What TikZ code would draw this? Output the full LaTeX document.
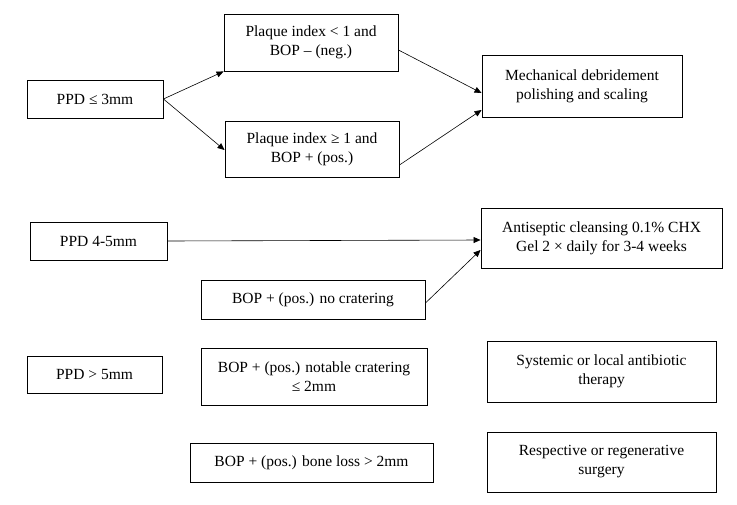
\documentclass[tikz,border=0pt]{standalone}
\usepackage{fontspec}
\setmainfont{Liberation Serif}
\usetikzlibrary{arrows.meta}
\begin{document}
\begin{tikzpicture}[x=1pt,y=-1pt,
  box/.style={draw,line width=0.9pt,align=center,font=\fontsize{15.5}{19}\selectfont,inner sep=0pt},
  arr/.style={-{Triangle[length=7pt,width=6pt]},line width=0.6pt}]
\useasboundingbox (0,0) rectangle (737,504);
\newcommand{\bx}[6]{\node[box,minimum width={#4-#2},minimum height={#5-#3}] (#1) at ({(#2+#4)/2},{(#3+#5)/2}) {#6};}
\bx{a}{27}{80}{163}{118}{PPD ≤ 3mm}
\bx{b}{224}{14}{398}{71}{Plaque index < 1 and\\BOP – (neg.)}
\bx{c}{225}{121}{399}{177}{Plaque index ≥ 1 and\\BOP + (pos.)}
\bx{d}{482}{55}{682}{117}{Mechanical debridement\\polishing and scaling}
\bx{e}{30}{222}{167}{260}{PPD 4-5mm}
\bx{f}{481}{208}{722}{268}{Antiseptic cleansing 0.1\% CHX\\Gel 2 × daily for 3-4 weeks}
\bx{g}{201}{280}{425}{319}{BOP + (pos.) no cratering}
\bx{h}{27}{356}{162}{393}{PPD > 5mm}
\bx{i}{201}{348}{427}{405}{BOP + (pos.) notable cratering\\≤ 2mm}
\bx{j}{487}{341}{716}{402}{Systemic or local antibiotic\\therapy}
\bx{k}{190}{443}{433}{482}{BOP + (pos.) bone loss > 2mm}
\bx{l}{487}{432}{716}{492}{Respective or regenerative\\surgery}
\draw[arr] (a.east) -- (b.south west);
\draw[arr] (a.east) -- (c.west|-0,150);
\draw[arr] (b.east|-0,50) -- (d.west|-0,93);
\draw[arr] (c.east|-0,165) -- (d.west|-0,110);
\draw[arr] (e.east) -- (f.west|-0,240);
\draw[arr] (g.east|-0,303) -- (f.west|-0,250);
\end{tikzpicture}
\end{document}
